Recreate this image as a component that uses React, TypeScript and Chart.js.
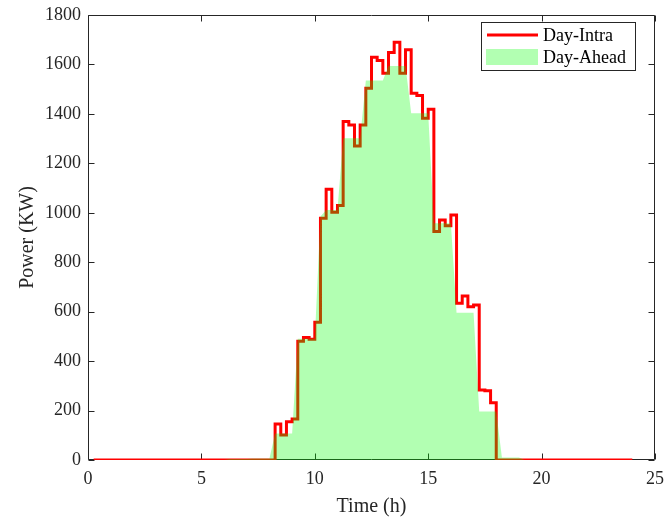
import React, { useEffect, useRef } from "react";
import { Chart, registerables } from "chart.js";

Chart.register(...registerables);

// Time stamps (h), quarter-hour resolution
const hours = [
  0.25, 0.5, 0.75, 1, 1.25, 1.5, 1.75, 2, 2.25, 2.5, 2.75, 3, 3.25, 3.5, 3.75, 4,
  4.25, 4.5, 4.75, 5, 5.25, 5.5, 5.75, 6, 6.25, 6.5, 6.75, 7, 7.25, 7.5, 7.75, 8,
  8.25, 8.5, 8.75, 9, 9.25, 9.5, 9.75, 10, 10.25, 10.5, 10.75, 11, 11.25, 11.5, 11.75, 12,
  12.25, 12.5, 12.75, 13, 13.25, 13.5, 13.75, 14, 14.25, 14.5, 14.75, 15, 15.25, 15.5, 15.75, 16,
  16.25, 16.5, 16.75, 17, 17.25, 17.5, 17.75, 18, 18.25, 18.5, 18.75, 19, 19.25, 19.5, 19.75, 20,
  20.25, 20.5, 20.75, 21, 21.25, 21.5, 21.75, 22, 22.25, 22.5, 22.75, 23, 23.25, 23.5, 23.75, 24,
];

// Day-Intra power (KW), stairs
const dayIntra = [
  0, 0, 0, 0, 0, 0, 0, 0, 0, 0, 0, 0, 0, 0, 0, 0,
  0, 0, 0, 0, 0, 0, 0, 0, 0, 0, 0, 0, 0, 0, 0, 0,
  146, 101, 155, 166, 480, 496, 488, 557, 978, 1095, 1002, 1029, 1369, 1355, 1270, 1355,
  1504, 1629, 1616, 1564, 1648, 1690, 1564, 1659, 1483, 1474, 1382, 1419, 924, 971, 948, 991,
  634, 663, 620, 627, 283, 280, 232, 0, 0, 0, 0, 0, 0, 0, 0, 0,
  0, 0, 0, 0, 0, 0, 0, 0, 0, 0, 0, 0, 0, 0, 0, 0,
];

// Day-Ahead power (KW), area
const dayAhead = [
  0, 0, 0, 0, 0, 0, 0, 0, 0, 0, 0, 0, 0, 0, 0, 0,
  0, 0, 0, 0, 0, 0, 0, 0, 4, 4, 4, 4, 6, 6, 6, 6,
  107, 107, 107, 107, 490, 490, 490, 490, 985, 1011, 1011, 1011, 1301, 1301, 1301, 1301,
  1535, 1535, 1535, 1535, 1594, 1594, 1594, 1594, 1403, 1403, 1403, 1403, 958, 958, 958, 958,
  596, 596, 596, 596, 196, 196, 196, 196, 10, 10, 10, 10, 0, 0, 0, 0,
  0, 0, 0, 0, 0, 0, 0, 0, 0, 0, 0, 0, 0, 0, 0, 0,
];

const xTicks = [0, 5, 10, 15, 20, 25];
const yTicks = [0, 200, 400, 600, 800, 1000, 1200, 1400, 1600, 1800];

const FONT = "'Liberation Serif', 'Times New Roman', serif";
const AXIS = "#262626";

export default function App() {
  const ref = useRef<HTMLCanvasElement>(null);

  useEffect(() => {
    const canvas = ref.current;
    if (!canvas) return;

    const boxPlugin = {
      id: "matlabBox",
      beforeDatasetsDraw(chart: any) {
        const { ctx, chartArea: a, scales } = chart;
        const L = Math.round(a.left) + 0.5;
        const R = Math.round(a.right) - 0.5;
        const T = Math.round(a.top) + 0.5;
        const B = Math.round(a.bottom) - 0.5;
        const tl = 6;
        ctx.save();
        ctx.strokeStyle = AXIS;
        ctx.lineWidth = 1;
        ctx.beginPath();
        ctx.moveTo(L, T);
        ctx.lineTo(R, T);
        ctx.lineTo(R, B);
        ctx.lineTo(L, B);
        ctx.closePath();
        xTicks.forEach((v) => {
          const px = Math.round(scales.x.getPixelForValue(v)) + 0.5;
          ctx.moveTo(px, B);
          ctx.lineTo(px, B - tl);
          ctx.moveTo(px, T);
          ctx.lineTo(px, T + tl);
        });
        yTicks.forEach((v) => {
          const py = Math.round(scales.y.getPixelForValue(v)) + 0.5;
          ctx.moveTo(L, py);
          ctx.lineTo(L + tl, py);
          ctx.moveTo(R, py);
          ctx.lineTo(R - tl, py);
        });
        ctx.stroke();
        ctx.restore();
      },
      afterDraw(chart: any) {
        const { ctx } = chart;
        const ds = chart.data.datasets;
        ctx.save();
        // legend box
        ctx.fillStyle = "#ffffff";
        ctx.fillRect(481.5, 22.5, 154, 48);
        ctx.strokeStyle = AXIS;
        ctx.lineWidth = 1;
        ctx.strokeRect(481.5, 22.5, 154, 48);
        // red line sample
        ctx.strokeStyle = ds[0].borderColor;
        ctx.lineWidth = 3;
        ctx.beginPath();
        ctx.moveTo(487, 35);
        ctx.lineTo(538, 35);
        ctx.stroke();
        // green patch sample
        ctx.fillStyle = ds[1].backgroundColor;
        ctx.fillRect(486, 49, 52, 16);
        // texts
        ctx.fillStyle = "#000000";
        ctx.font = `18px ${FONT}`;
        ctx.textBaseline = "middle";
        ctx.textAlign = "left";
        ctx.fillText(ds[0].label, 543, 36);
        ctx.fillText(ds[1].label, 543, 58);
        ctx.restore();
      },
    };

    const chart = new Chart(canvas, {
      type: "line",
      data: {
        datasets: [
          {
            label: "Day-Intra",
            data: hours.map((h, i) => ({ x: h, y: dayIntra[i] })),
            borderColor: "#ff0000",
            backgroundColor: "#ff0000",
            borderWidth: 3,
            stepped: "before",
            pointRadius: 0,
            fill: false,
            order: 1,
          },
          {
            label: "Day-Ahead",
            data: hours.map((h, i) => ({ x: h, y: dayAhead[i] })),
            borderColor: "rgba(0,0,0,0)",
            backgroundColor: "rgba(0,255,0,0.3)",
            borderWidth: 1,
            pointRadius: 0,
            tension: 0,
            fill: "origin",
            order: 0,
          },
        ],
      },
      options: {
        responsive: false,
        animation: false,
        devicePixelRatio: 1,
        events: [],
        layout: { padding: { left: 0, right: 9, top: 15, bottom: 0 } },
        plugins: {
          legend: { display: false },
          tooltip: { enabled: false },
          title: { display: false },
        },
        scales: {
          x: {
            type: "linear",
            min: 0,
            max: 25,
            afterBuildTicks: (s: any) => {
              s.ticks = xTicks.map((v) => ({ value: v }));
            },
            afterFit: (s: any) => {
              s.height = 60;
              s.paddingLeft = 0;
              s.paddingRight = 0;
            },
            grid: { display: false, drawTicks: false },
            border: { display: false },
            ticks: {
              color: AXIS,
              font: { family: FONT, size: 18 },
              padding: 8,
              maxRotation: 0,
              autoSkip: false,
              callback: (v: any) => String(v),
            },
            title: {
              display: true,
              text: "Time (h)",
              color: AXIS,
              font: { family: FONT, size: 20 },
              padding: { top: 0, bottom: 1 },
            },
          },
          y: {
            type: "linear",
            min: 0,
            max: 1800,
            afterBuildTicks: (s: any) => {
              s.ticks = yTicks.map((v) => ({ value: v }));
            },
            afterFit: (s: any) => {
              s.width = 88;
              s.paddingTop = 0;
              s.paddingBottom = 0;
            },
            grid: { display: false, drawTicks: false },
            border: { display: false },
            ticks: {
              color: AXIS,
              font: { family: FONT, size: 18 },
              padding: 7,
              autoSkip: false,
              callback: (v: any) => String(v),
            },
            title: {
              display: true,
              text: "Power (KW)",
              color: AXIS,
              font: { family: FONT, size: 20 },
              padding: { top: 16, bottom: 0 },
            },
          },
        },
      },
      plugins: [boxPlugin],
    });

    return () => chart.destroy();
  }, []);

  return (
    <div style={{ position: "fixed", left: 0, top: 0, width: 664, height: 520, background: "#fff" }}>
      <canvas ref={ref} width={664} height={520} style={{ display: "block" }} />
    </div>
  );
}
